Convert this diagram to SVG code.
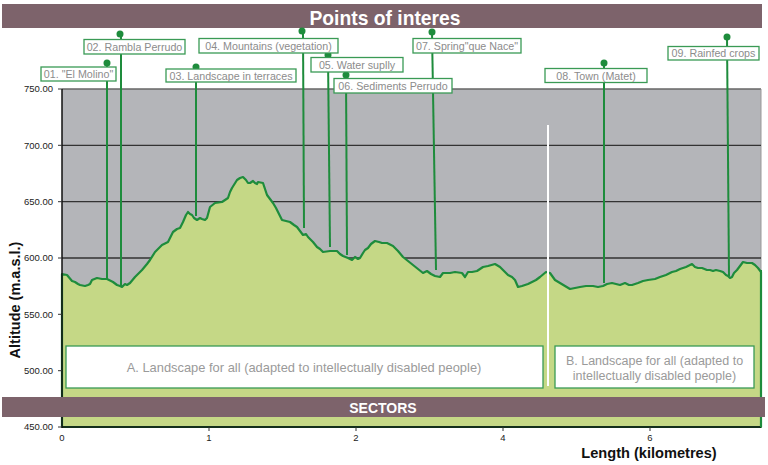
<svg xmlns="http://www.w3.org/2000/svg" width="768" height="465" viewBox="0 0 768 465">
<style>
.bar{fill:#7d636b}
.bt{font-family:"Liberation Sans",Arial,sans-serif;font-weight:bold;fill:#ffffff;text-anchor:middle}
.ax{font-family:"Liberation Sans",Arial,sans-serif;font-size:9.5px;fill:#222;}
.axt{font-family:"Liberation Sans",Arial,sans-serif;font-weight:bold;fill:#111;text-anchor:middle}
.grid{stroke:#333;stroke-width:1.3}
.pin{stroke:#1e8c3c;stroke-width:2;fill:none}
.dot{fill:#1e8c3c}
.lb{fill:#fff;stroke:#3a9a55;stroke-width:1.3}
.lt{font-family:"Liberation Sans",Arial,sans-serif;font-size:10.7px;fill:#8c8c8c;text-anchor:middle}
.st{font-family:"Liberation Sans",Arial,sans-serif;font-size:12.5px;fill:#9a9a9a;text-anchor:middle}
.sta{font-size:12.9px}
</style>
<rect width="768" height="465" fill="#ffffff"/>
<g id="plot">
<rect x="62" y="89" width="699" height="338" fill="#b4b5b9"/>
<line x1="62" y1="89" x2="761" y2="89" stroke="#666" stroke-width="1.5"/>
<line x1="761" y1="89" x2="761" y2="427" stroke="#999" stroke-width="1"/>
<line class="grid" x1="62" y1="145.3" x2="761" y2="145.3"/>
<line class="grid" x1="62" y1="201.7" x2="761" y2="201.7"/>
<line class="grid" x1="62" y1="258" x2="761" y2="258"/>
<path d="M62,427 L62,274 67,275 72,281 75,282 78,284 80,285 85,286 88,285 90,284 92,280 97,278 102,279 107,279 113,282 117,285 120,286 122,287 125,284 127,285 130,283 135,277 142,270 147,264 150,260 155,252 162,245 168,242 171,236 173,232 177,229 180,228 183,222 186,215 188,212 190,214 192,215 194,218 197,220 200,218 202,219 205,220 207,218 210,207 215,203 222,202 228,198 230,192 232,188 237,180 240,178 243,177 246,180 248,183 250,183 253,181 255,183 257,184 258,182 263,183 265,189 267,195 270,199 273,203 276,208 278,212 282,220 286,221 290,222 294,225 297,227 300,231 303,235 306,234 308,237 313,242 317,247 320,249 323,252 330,251 337,251 340,254 343,256 348,258 352,260 355,257 358,259 360,258 363,253 365,250 368,248 371,244 375,241 379,242 382,243 387,243 393,246 398,251 403,257 408,261 413,265 418,269 423,273 427,271 431,274 435,276 440,277 443,273 450,273 455,272 462,273 465,277 468,272 472,272 477,271 483,267 488,266 495,264 500,267 504,271 508,275 512,277 515,280 518,287 522,286 525,285 528,284 532,282 536,280 540,277 546,272 550,273 555,280 560,283 565,286 570,289 575,288 580,287 586,286 593,286 598,287 603,286 607,284 612,283 616,284 620,285 625,283 629,285 632,285 638,283 643,281 648,280 655,279 660,277 666,275 672,272 676,271 680,269 686,267 692,264 695,267 698,268 702,268 707,270 710,270 713,271 716,270 720,271 723,272 726,275 728,276 730,278 732,277 734,273 737,270 740,266 743,262 747,263 752,263 755,265 758,268 761,272 L761,427 Z" fill="#c5d886" stroke="#1e8c3c" stroke-width="2.2" stroke-linejoin="round"/>
<line x1="62" y1="89" x2="62" y2="428" stroke="#111" stroke-width="1.5"/>
<line x1="62" y1="427" x2="761" y2="427" stroke="#111" stroke-width="1.5"/>
<line x1="761" y1="270" x2="761" y2="427" stroke="#1e8c3c" stroke-width="2"/>
<line x1="548" y1="125" x2="548" y2="386" stroke="#ffffff" stroke-width="2"/>
</g>
<g id="y-axis">
<g stroke="#333" stroke-width="1">
<line x1="58" y1="89" x2="62" y2="89"/><line x1="58" y1="145.3" x2="62" y2="145.3"/><line x1="58" y1="201.7" x2="62" y2="201.7"/><line x1="58" y1="258" x2="62" y2="258"/><line x1="58" y1="314.3" x2="62" y2="314.3"/><line x1="58" y1="370.7" x2="62" y2="370.7"/><line x1="58" y1="427" x2="62" y2="427"/>
</g>
<g class="ax" text-anchor="end">
<text x="53" y="92">750.00</text><text x="53" y="148.5">700.00</text><text x="53" y="205">650.00</text><text x="53" y="261">600.00</text><text x="53" y="317.5">550.00</text><text x="53" y="374">500.00</text><text x="53" y="430">450.00</text>
</g>
<text class="axt" font-size="14.5" transform="translate(20,300) rotate(-90)">Altitude (m.a.s.l.)</text>
</g>
<g id="x-axis">
<g stroke="#333" stroke-width="1">
<line x1="209" y1="427" x2="209" y2="431"/><line x1="356" y1="427" x2="356" y2="431"/><line x1="503" y1="427" x2="503" y2="431"/><line x1="650" y1="427" x2="650" y2="431"/>
</g>
<g class="ax" text-anchor="middle" font-size="9">
<text x="62" y="441">0</text><text x="209" y="441">1</text><text x="356" y="441">2</text><text x="503" y="441">4</text><text x="650" y="441">6</text>
</g>
<text class="axt" font-size="14.6" x="649" y="458">Length (kilometres)</text>
</g>
<g id="title">
<rect class="bar" x="2" y="4" width="760" height="24"/>
<text class="bt" x="385" y="25" font-size="19.3">Points of interes</text>
</g>
<g id="sectors">
<rect class="bar" x="2" y="397" width="763" height="20"/>
<text class="bt" x="383" y="413" font-size="14">SECTORS</text>
</g>
<g id="sector-a">
<rect class="lb" x="66" y="346" width="477" height="42"/>
<text class="st sta" x="304" y="372">A. Landscape for all (adapted to intellectually disabled people)</text>
</g>
<g id="sector-b">
<rect class="lb" x="555" y="346" width="199" height="42"/>
<text class="st" x="654.5" y="365">B. Landscape for all (adapted to</text>
<text class="st" x="654.5" y="380">intellectually disabled people)</text>
</g>
<g id="connectors">
<line class="pin" x1="107" y1="63" x2="107" y2="280"/>
<line class="pin" x1="121" y1="34" x2="121" y2="286"/>
<line class="pin" x1="196" y1="67" x2="196" y2="216"/>
<line class="pin" x1="303" y1="31" x2="304" y2="228"/>
<line class="pin" x1="328" y1="55" x2="330" y2="247"/>
<line class="pin" x1="346" y1="74" x2="347" y2="255"/>
<line class="pin" x1="432" y1="32" x2="436" y2="270"/>
<line class="pin" x1="604" y1="63" x2="604" y2="283"/>
<line class="pin" x1="727" y1="37" x2="729" y2="276"/>
<circle class="dot" cx="107" cy="63" r="3.5"/>
<circle class="dot" cx="120" cy="34" r="3.5"/>
<circle class="dot" cx="196" cy="67" r="3.5"/>
<circle class="dot" cx="302" cy="31" r="3.5"/>
<circle class="dot" cx="328" cy="55" r="3.5"/>
<circle class="dot" cx="346" cy="75" r="3.5"/>
<circle class="dot" cx="432" cy="32" r="3.5"/>
<circle class="dot" cx="604" cy="63" r="3.5"/>
<circle class="dot" cx="727" cy="37" r="3.5"/>
</g>
<g id="p01"><rect class="lb" x="41" y="67" width="75" height="14"/><text class="lt" x="78.5" y="78">01. "El Molino"</text></g>
<g id="p02"><rect class="lb" x="84" y="39.5" width="101" height="14.5"/><text class="lt" x="134.5" y="50.8">02. Rambla Perrudo</text></g>
<g id="p03"><rect class="lb" x="166" y="69" width="130" height="13"/><text class="lt" x="231" y="79.7">03. Landscape in terraces</text></g>
<g id="p04"><rect class="lb" x="199" y="38.5" width="139" height="14.5"/><text class="lt" x="268.5" y="49.7">04. Mountains (vegetation)</text></g>
<g id="p05"><rect class="lb" x="311" y="57.5" width="92" height="14.5"/><text class="lt" x="357" y="68.7">05. Water suplly</text></g>
<g id="p06"><rect class="lb" x="334" y="78.5" width="118" height="14.5"/><text class="lt" x="393" y="89.7">06. Sediments Perrudo</text></g>
<g id="p07"><rect class="lb" x="413" y="38.5" width="108" height="14.5"/><text class="lt" x="467" y="49.7">07. Spring"que Nace"</text></g>
<g id="p08"><rect class="lb" x="545" y="68.5" width="102" height="14"/><text class="lt" x="596" y="79.5">08. Town (Matet)</text></g>
<g id="p09"><rect class="lb" x="668" y="46.5" width="91" height="13.5"/><text class="lt" x="713.5" y="57.3">09. Rainfed crops</text></g>
</svg>
